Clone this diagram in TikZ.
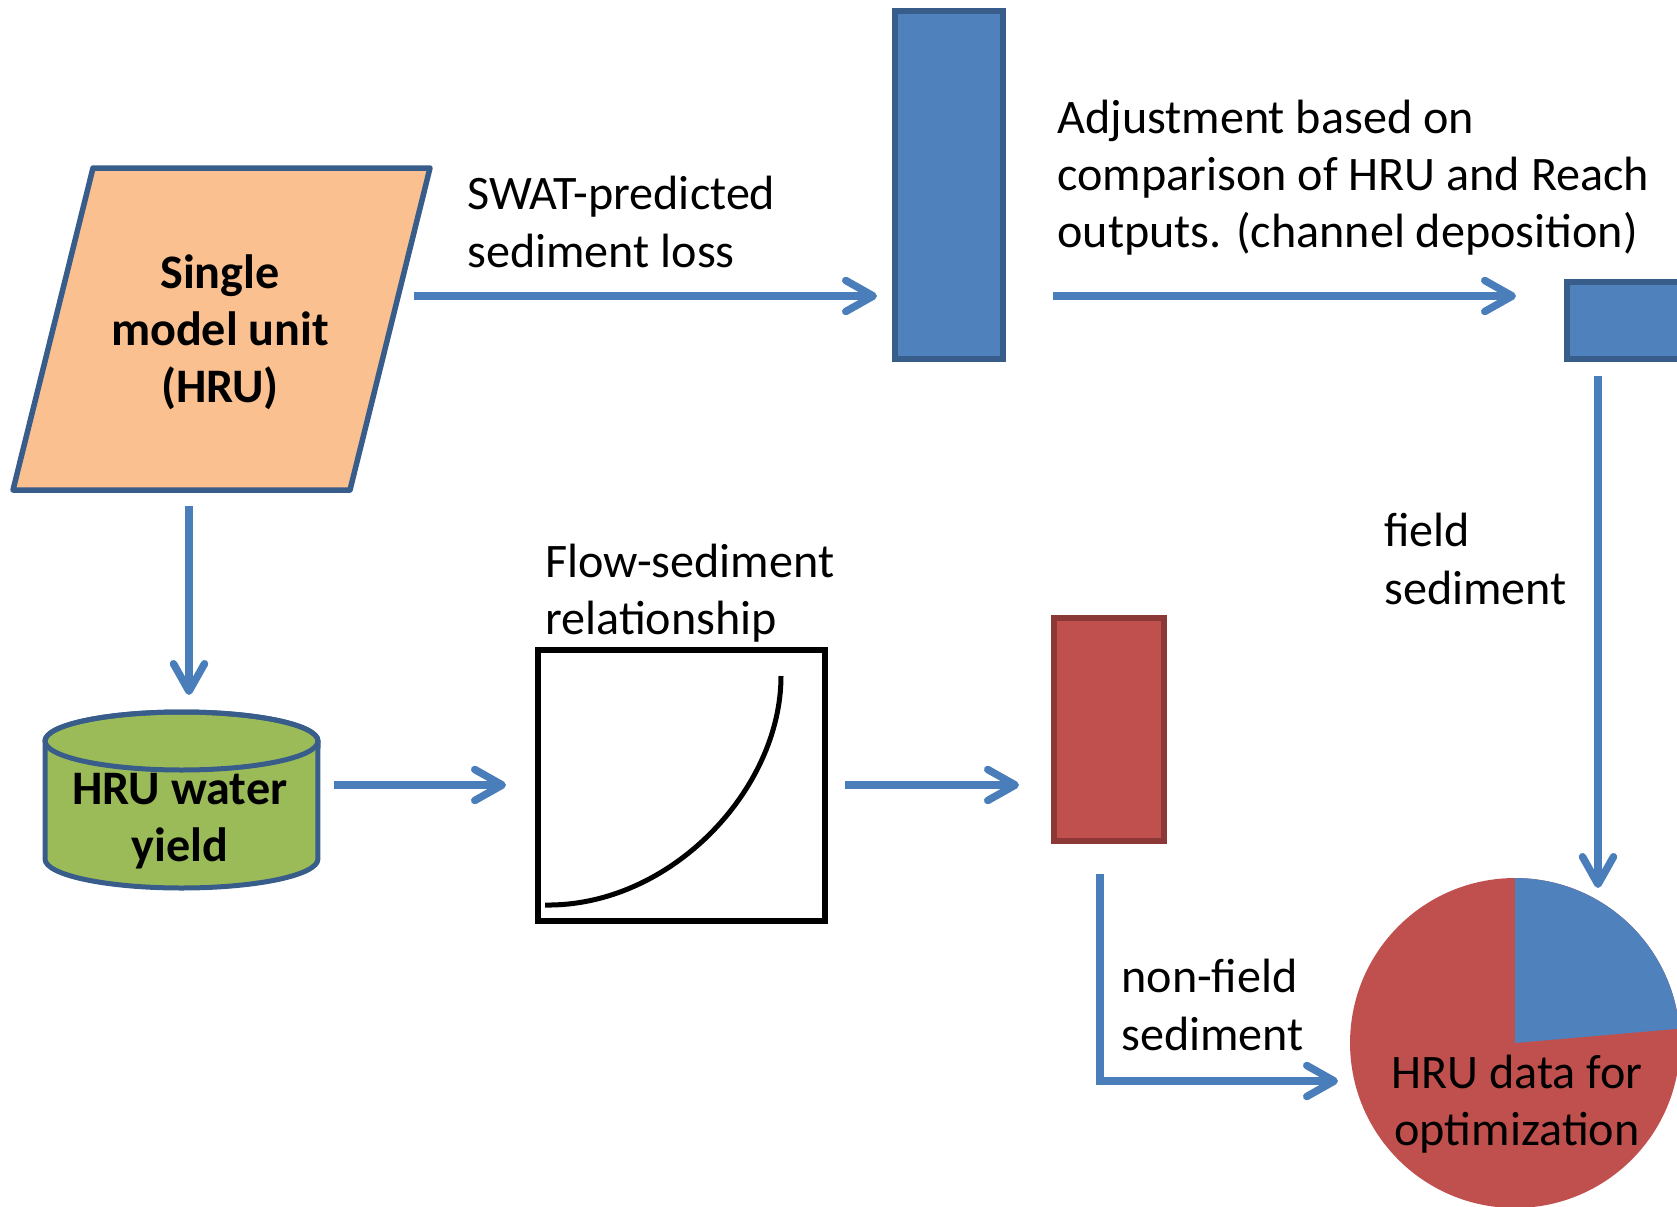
\documentclass[tikz,border=0pt]{standalone}
\usepackage{fontspec}
\setmainfont{Carlito}
\usetikzlibrary{arrows.meta}
\definecolor{fillblue}{HTML}{4F81BD}
\definecolor{lineblue}{HTML}{385D8A}
\definecolor{arrowblue}{HTML}{4A7EBB}
\definecolor{fillred}{HTML}{C0504D}
\definecolor{linered}{HTML}{8C3836}
\definecolor{fillorange}{HTML}{FAC090}
\definecolor{fillgreen}{HTML}{9BBB59}

\begin{document}
\begin{tikzpicture}[x=0.02cm, y=-0.02cm,
    flow/.style={draw=arrowblue, line width=0.15cm, -{Straight Barb[length=0.55cm,width=0.62cm,round]}},
    bar/.style={draw, line width=0.11cm, inner sep=0pt, outer sep=0pt},
    lbl/.style={font=\fontsize{27.4}{32.5}\selectfont, align=left, inner sep=0pt, anchor=west},
    title/.style={font=\fontsize{27.4}{32.5}\selectfont\bfseries, align=center, inner sep=0pt}]
      \clip (0,0) rectangle (1677,1207);

      % shapes
      \draw[fill=fillorange, draw=lineblue, line width=0.11cm, line join=round] (93,168) -- (430,168) -- (350,490) -- (13,490) -- cycle;
      \node[title] (hru) at (220,332) {Single\\model unit\\(HRU)};

      \draw[fill=fillgreen, draw=lineblue, line width=0.1cm] (45,741) -- (45,859) arc[start angle=180, end angle=360, x radius=2.73cm, y radius=0.58cm] -- (318,741) arc[start angle=0, end angle=180, x radius=2.73cm, y radius=0.58cm] -- cycle;
      \draw[draw=lineblue, line width=0.1cm] (181.5,741) ellipse[x radius=2.73cm, y radius=0.58cm];
      \node[title] (yield) at (180,821) {HRU water\\yield};

      \node[draw=black, line width=0.13cm, minimum width=5.74cm, minimum height=5.42cm, inner sep=0pt, outer sep=0pt] (curvebox) at (681.5,785.5) {};
      \draw[line width=0.1cm] (545,905) .. controls (670,907) and (781,790) .. (781,676);

      \node[bar, draw=lineblue, fill=fillblue, minimum width=2.16cm, minimum height=6.96cm] (predbar) at (949,185) {};
      \node[bar, draw=lineblue, fill=fillblue, minimum width=3.06cm, minimum height=1.54cm] (adjbar) at (1643.5,320.5) {};
      \node[bar, draw=linered, fill=fillred, minimum width=2.2cm, minimum height=4.46cm] (sedbar) at (1109,729.5) {};

      \coordinate (pie) at (1515,1043);
      \fill[fillred] (pie) circle[radius=3.3cm];
      \fill[fillblue] (pie) -- ++(5:3.3cm) arc[start angle=5, end angle=90, radius=3.3cm] -- cycle;
      \node[lbl, anchor=center, align=center] (optim) at (1517,1104) {HRU data for\\optimization};

      % labels
      \node[lbl] (swat) at (467,222) {SWAT-predicted\\sediment loss};
      \node[lbl] (adjust) at (1057,178) {Adjustment based on\\comparison of HRU and Reach\\outputs. (channel deposition)};
      \node[lbl] (flowsed) at (545,593) {Flow-sediment\\relationship};
      \node[lbl] (field) at (1384,559) {field\\sediment};
      \node[lbl] (nonfield) at (1121,1005) {non-field\\sediment};

      % connector ends
      \coordinate (c1) at (414,296);
      \coordinate (c2) at (877,296);
      \coordinate (c3) at (1053,296);
      \coordinate (c4) at (1516,296);
      \coordinate (c5) at (189,506);
      \coordinate (c6) at (189,695);
      \coordinate (c7) at (334,785);
      \coordinate (c8) at (506,785);
      \coordinate (c9) at (845,785);
      \coordinate (c10) at (1019,785);
      \coordinate (c11) at (1598,376);
      \coordinate (c12) at (1598,888);
      \coordinate (c13) at (1100,874);
      \coordinate (c14) at (1338,1081);

      \draw[flow] (c1) -- (c2);
      \draw[flow] (c3) -- (c4);
      \draw[flow] (c5) -- (c6);
      \draw[flow] (c7) -- (c8);
      \draw[flow] (c9) -- (c10);
      \draw[flow] (c11) -- (c12);
      \draw[flow] (c13) |- (c14);
    \end{tikzpicture}
\end{document}
